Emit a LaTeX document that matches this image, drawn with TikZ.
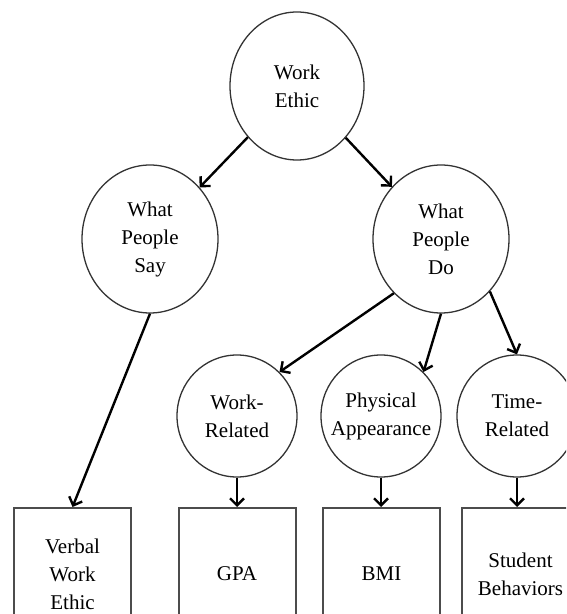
\documentclass[tikz,border=0pt]{standalone}
\usepackage{fontspec}
\setmainfont{Liberation Serif}
\usetikzlibrary{shapes.geometric,arrows.meta}
\tikzset{
  bubble/.style={ellipse, draw=black!80, line width=1.3pt, inner xsep=-20pt, inner ysep=-10pt, align=center,
    font=\fontsize{21}{28}\selectfont},
  bigbubble/.style={bubble, minimum width=136pt, minimum height=148pt},
  topbubble/.style={bubble, minimum width=134pt, minimum height=148pt},
  smallbubble/.style={bubble, minimum width=120pt, minimum height=122pt},
  measurebox/.style={rectangle, draw=black!70, line width=2pt, inner sep=0pt, align=center,
    minimum width=117pt, minimum height=132pt, font=\fontsize{21}{28}\selectfont},
  link/.style={draw=black, line width=2.4pt, -{Straight Barb[length=7pt,width=14pt]}}
}
\begin{document}
\begin{tikzpicture}[x=1pt,y=1pt]
\useasboundingbox (0,0) rectangle (566,614);
\clip (0,0) rectangle (566,614);
\node[topbubble] (we) at (297,528) {Work\\Ethic};
\node[bigbubble] (say) at (150,375) {What\\People\\Say};
\node[bigbubble] (do) at (441,375) {What\\People\\Do};
\node[smallbubble] (wr) at (237,198) {Work-\\Related};
\node[smallbubble] (pa) at (381,198) {Physical\\Appearance};
\node[smallbubble] (tr) at (517,198) {Time-\\Related};
\node[measurebox] (verbal) at (72.5,40) {Verbal\\Work\\Ethic};
\node[measurebox] (gpa) at (237,40) {GPA};
\node[measurebox] (bmi) at (381.5,40) {BMI};
\node[measurebox] (stud) at (520.5,40) {Student\\Behaviors};
\draw[link] (we) -- (say);
\draw[link] (we) -- (do);
\draw[link] (say.south) -- (verbal.north);
\draw[link] (do.229) -- (wr.46);
\draw[link] (do.south) -- (pa.46);
\draw[link] (do.313) -- (tr.north);
\draw[link] (wr.south) -- (wr.south |- gpa.north);
\draw[link] (pa.south) -- (pa.south |- bmi.north);
\draw[link] (tr.south) -- (tr.south |- stud.north);
\end{tikzpicture}
\end{document}
